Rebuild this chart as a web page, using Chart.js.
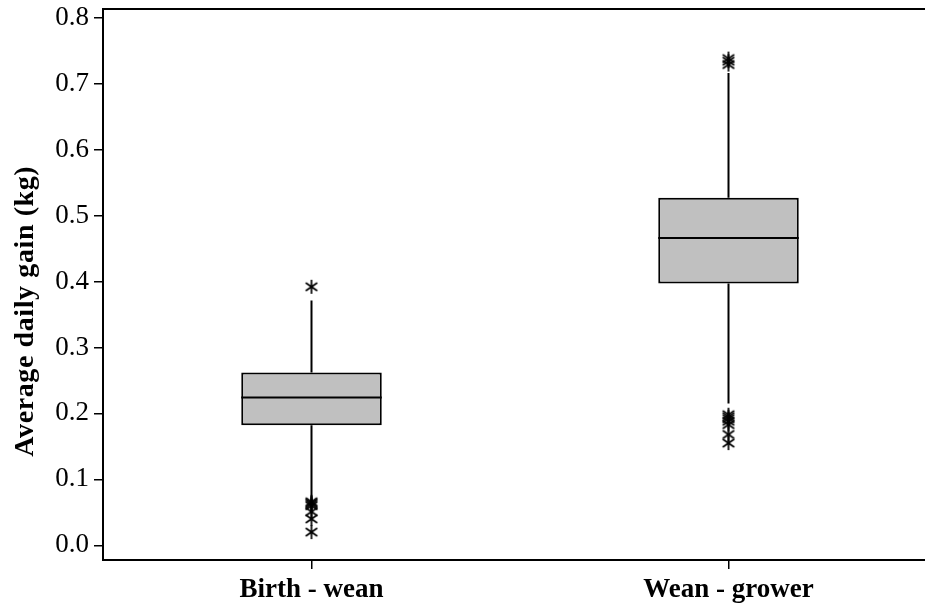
<!DOCTYPE html>
<html>
<head>
<meta charset="utf-8">
<script src="https://cdn.jsdelivr.net/npm/chart.js@4.4.1/dist/chart.umd.min.js"></script>
<style>
  html, body { margin: 0; padding: 0; background: #fff; overflow: hidden; }
  #wrap { width: 946px; height: 604px; }
</style>
</head>
<body>
<div id="wrap"><canvas id="c" width="946" height="604"></canvas></div>
<script>
// Average daily gain by growth period: box-and-whisker summary
const categories = ['Birth - wean', 'Wean - grower'];
const q1 = [0.182, 0.397];
const medians = [0.224, 0.466];
const q3 = [0.262, 0.527];
const whiskerLow = [0.068, 0.215];
const whiskerHigh = [0.371, 0.716];
const outliersBirthWean = [0.392, 0.066, 0.064, 0.062, 0.060, 0.051, 0.040, 0.020];
const outliersWeanGrower = [0.738, 0.734, 0.729, 0.198, 0.195, 0.192, 0.188, 0.183, 0.168, 0.155];
const yTicks = [0.0, 0.1, 0.2, 0.3, 0.4, 0.5, 0.6, 0.7, 0.8];
const yTitle = 'Average daily gain (kg)';

const SERIF = '"Liberation Serif", "Times New Roman", serif';

// asterisk marker used for outlying observations
function makeAsterisk(size) {
  const cv = document.createElement('canvas');
  cv.width = size; cv.height = size;
  const g = cv.getContext('2d');
  const c = size / 2, r = size / 2 - 1;
  g.strokeStyle = '#000';
  g.lineWidth = 1.7;
  [90, 35, 145].forEach(deg => {
    const a = deg * Math.PI / 180;
    g.beginPath();
    g.moveTo(c - r * Math.cos(a), c - r * Math.sin(a));
    g.lineTo(c + r * Math.cos(a), c + r * Math.sin(a));
    g.stroke();
  });
  return cv;
}
const asterisk = makeAsterisk(16);

// whisker segments: Q3 -> upper whisker, lower whisker -> Q1
const whiskerPoints = [];
categories.forEach((cat, i) => {
  whiskerPoints.push({x: cat, y: q3[i]}, {x: cat, y: whiskerHigh[i]}, {x: cat, y: null});
  whiskerPoints.push({x: cat, y: whiskerLow[i]}, {x: cat, y: q1[i]}, {x: cat, y: null});
});

const outlierPoints = [
  ...outliersBirthWean.map(v => ({x: categories[0], y: v})),
  ...outliersWeanGrower.map(v => ({x: categories[1], y: v}))
];

// median line across each box, the outer frame of the plot and the y-axis title
const boxExtras = {
  id: 'boxExtras',
  afterDatasetsDraw(chart) {
    const ctx = chart.ctx;
    const meta = chart.getDatasetMeta(0);
    const y = chart.scales.y;
    ctx.save();
    ctx.strokeStyle = '#000';
    ctx.lineWidth = 2;
    meta.data.forEach((bar, i) => {
      const py = y.getPixelForValue(medians[i]);
      ctx.beginPath();
      ctx.moveTo(bar.x - bar.width / 2, py);
      ctx.lineTo(bar.x + bar.width / 2, py);
      ctx.stroke();
    });
    const a = chart.chartArea;
    ctx.strokeRect(a.left, a.top, a.right - a.left, a.bottom - a.top);

    // axis title, set a little below the middle of the axis
    ctx.translate(26, y.getPixelForValue(0.355));
    ctx.rotate(-Math.PI / 2);
    ctx.font = 'bold 28px ' + SERIF;
    if ('letterSpacing' in ctx) ctx.letterSpacing = '0.6px';
    ctx.fillStyle = '#000';
    ctx.textAlign = 'center';
    ctx.textBaseline = 'middle';
    ctx.fillText(yTitle, 0, 0);
    ctx.restore();
  }
};

new Chart(document.getElementById('c'), {
  type: 'bar',
  data: {
    labels: categories,
    datasets: [
      {
        type: 'bar',
        data: categories.map((_, i) => [q1[i], q3[i]]),
        backgroundColor: '#c0c0c0',
        borderColor: '#000',
        borderWidth: 2,
        borderSkipped: false,
        barPercentage: 0.337,
        categoryPercentage: 1,
        order: 2
      },
      {
        type: 'line',
        data: whiskerPoints,
        borderColor: '#000',
        borderWidth: 2,
        pointRadius: 0,
        spanGaps: false,
        fill: false,
        order: 3
      },
      {
        type: 'scatter',
        data: outlierPoints,
        pointStyle: asterisk,
        pointRadius: 8,
        showLine: false,
        order: 1
      }
    ]
  },
  options: {
    responsive: false,
    devicePixelRatio: 1,
    animation: false,
    layout: { padding: { top: 9, right: 0, left: 0, bottom: 0 } },
    plugins: { legend: { display: false }, tooltip: { enabled: false } },
    scales: {
      x: {
        type: 'category',
        offset: true,
        grid: { display: true, offset: false, drawOnChartArea: false, drawTicks: true, tickLength: 9, color: '#000', lineWidth: 1.5 },
        border: { display: false },
        ticks: { color: '#000', padding: 5, font: { family: SERIF, size: 27, weight: 'bold' } },
        afterFit: s => { s.height = 44; s.paddingLeft = 0; s.paddingRight = 0; }
      },
      y: {
        type: 'linear',
        min: -0.0223,
        max: 0.8132,
        grid: { display: true, drawOnChartArea: false, drawTicks: true, tickLength: 9, color: '#000', lineWidth: 1.5 },
        border: { display: false },
        afterBuildTicks: s => { s.ticks = yTicks.map(v => ({value: v})); },
        ticks: {
          color: '#000',
          padding: 5,
          font: { family: SERIF, size: 27 },
          callback: v => Number(v).toFixed(1)
        },
        afterFit: s => { s.width = 103; s.paddingTop = 0; s.paddingBottom = 0; }
      }
    }
  },
  plugins: [boxExtras]
});
</script>
</body>
</html>
